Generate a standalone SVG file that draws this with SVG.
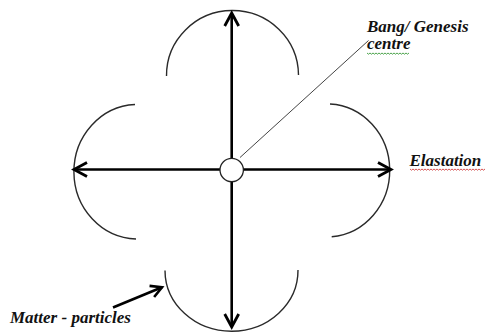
<svg xmlns="http://www.w3.org/2000/svg" width="485" height="335" viewBox="0 0 485 335">
<style>
.lbl{font-family:"Liberation Serif","Times New Roman",serif;font-weight:bold;font-style:italic;font-size:17px;fill:#111}
.arc{fill:none;stroke:#2a2a2a;stroke-width:1.4}
.axis{fill:none;stroke:#000;stroke-width:2.6}
.thin{fill:none;stroke:#444;stroke-width:1}
.wave{fill:none;stroke-width:0.9}
</style>
<defs>
<marker id="chev" markerUnits="userSpaceOnUse" viewBox="-16 -10 20 20" refX="0" refY="0" markerWidth="20" markerHeight="20" orient="auto">
<path d="M-13 -7 L0 0 L-13 7" fill="none" stroke="#000" stroke-width="2.8" stroke-linejoin="miter"/>
</marker>
<marker id="chevs" markerUnits="userSpaceOnUse" viewBox="-16 -10 20 20" refX="0" refY="0" markerWidth="20" markerHeight="20" orient="auto">
<path d="M-11 -6 L0 0 L-11 6" fill="none" stroke="#000" stroke-width="2.6"/>
</marker>
</defs>
<g id="arcs">
<g id="arc-top"><path class="arc" d="M166.5 76 A66 65 0 0 1 298.5 75"/></g>
<g id="arc-left"><path class="arc" d="M135 104.5 A64 67.3 0 0 0 136 239"/></g>
<g id="arc-right"><path class="arc" d="M330 104 A63 66.5 0 0 1 331.7 236.7"/></g>
<g id="arc-bottom"><path class="arc" d="M165 270.5 A66.5 61 0 0 0 298 270"/></g>
</g>
<g id="connectors">
<line class="axis" x1="231.7" y1="158" x2="231.7" y2="13" marker-end="url(#chev)"/>
<line class="axis" x1="231.7" y1="182" x2="231.7" y2="327" marker-end="url(#chev)"/>
<line class="axis" x1="220" y1="169.5" x2="74" y2="169.5" marker-end="url(#chev)"/>
<line class="axis" x1="243" y1="169.5" x2="391" y2="169.5" marker-end="url(#chev)"/>
<line class="thin" x1="240" y1="157.5" x2="368.5" y2="40.5"/>
<line class="axis" x1="113" y1="307.5" x2="162" y2="287.2" marker-end="url(#chevs)"/>
</g>
<g id="centre-node">
<circle cx="231.7" cy="170" r="11.7" fill="#fff" stroke="#222" stroke-width="1.3"/>
</g>
<g id="label-bang">
<text class="lbl" x="367" y="31.5">Bang/ Genesis</text>
<text class="lbl" x="367" y="49.3">centre</text>
<path class="wave" stroke="#3a9a3a" d="M367 53 l1.5 1.2 l1.5 -1.2 l1.5 1.2 l1.5 -1.2 l1.5 1.2 l1.5 -1.2 l1.5 1.2 l1.5 -1.2 l1.5 1.2 l1.5 -1.2 l1.5 1.2 l1.5 -1.2 l1.5 1.2 l1.5 -1.2 l1.5 1.2 l1.5 -1.2 l1.5 1.2 l1.5 -1.2 l1.5 1.2 l1.5 -1.2 l1.5 1.2 l1.5 -1.2 l1.5 1.2 l1.5 -1.2 l1.5 1.2 l1.5 -1.2 l1.5 1.2 l1.5 -1.2"/>
</g>
<g id="label-elastation">
<text class="lbl" x="409.5" y="165.5">Elastation</text>
<path class="wave" stroke="#d04040" d="M410 169 l1.5 1.2 l1.5 -1.2 l1.5 1.2 l1.5 -1.2 l1.5 1.2 l1.5 -1.2 l1.5 1.2 l1.5 -1.2 l1.5 1.2 l1.5 -1.2 l1.5 1.2 l1.5 -1.2 l1.5 1.2 l1.5 -1.2 l1.5 1.2 l1.5 -1.2 l1.5 1.2 l1.5 -1.2 l1.5 1.2 l1.5 -1.2 l1.5 1.2 l1.5 -1.2 l1.5 1.2 l1.5 -1.2 l1.5 1.2 l1.5 -1.2 l1.5 1.2 l1.5 -1.2 l1.5 1.2 l1.5 -1.2 l1.5 1.2 l1.5 -1.2 l1.5 1.2 l1.5 -1.2 l1.5 1.2 l1.5 -1.2 l1.5 1.2 l1.5 -1.2 l1.5 1.2 l1.5 -1.2 l1.5 1.2 l1.5 -1.2 l1.5 1.2 l1.5 -1.2 l1.5 1.2 l1.5 -1.2 l1.5 1.2 l1.5 -1.2 l1.5 1.2 l1.5 -1.2"/>
</g>
<g id="label-matter">
<text class="lbl" x="10" y="323.3">Matter - particles</text>
</g>
</svg>
